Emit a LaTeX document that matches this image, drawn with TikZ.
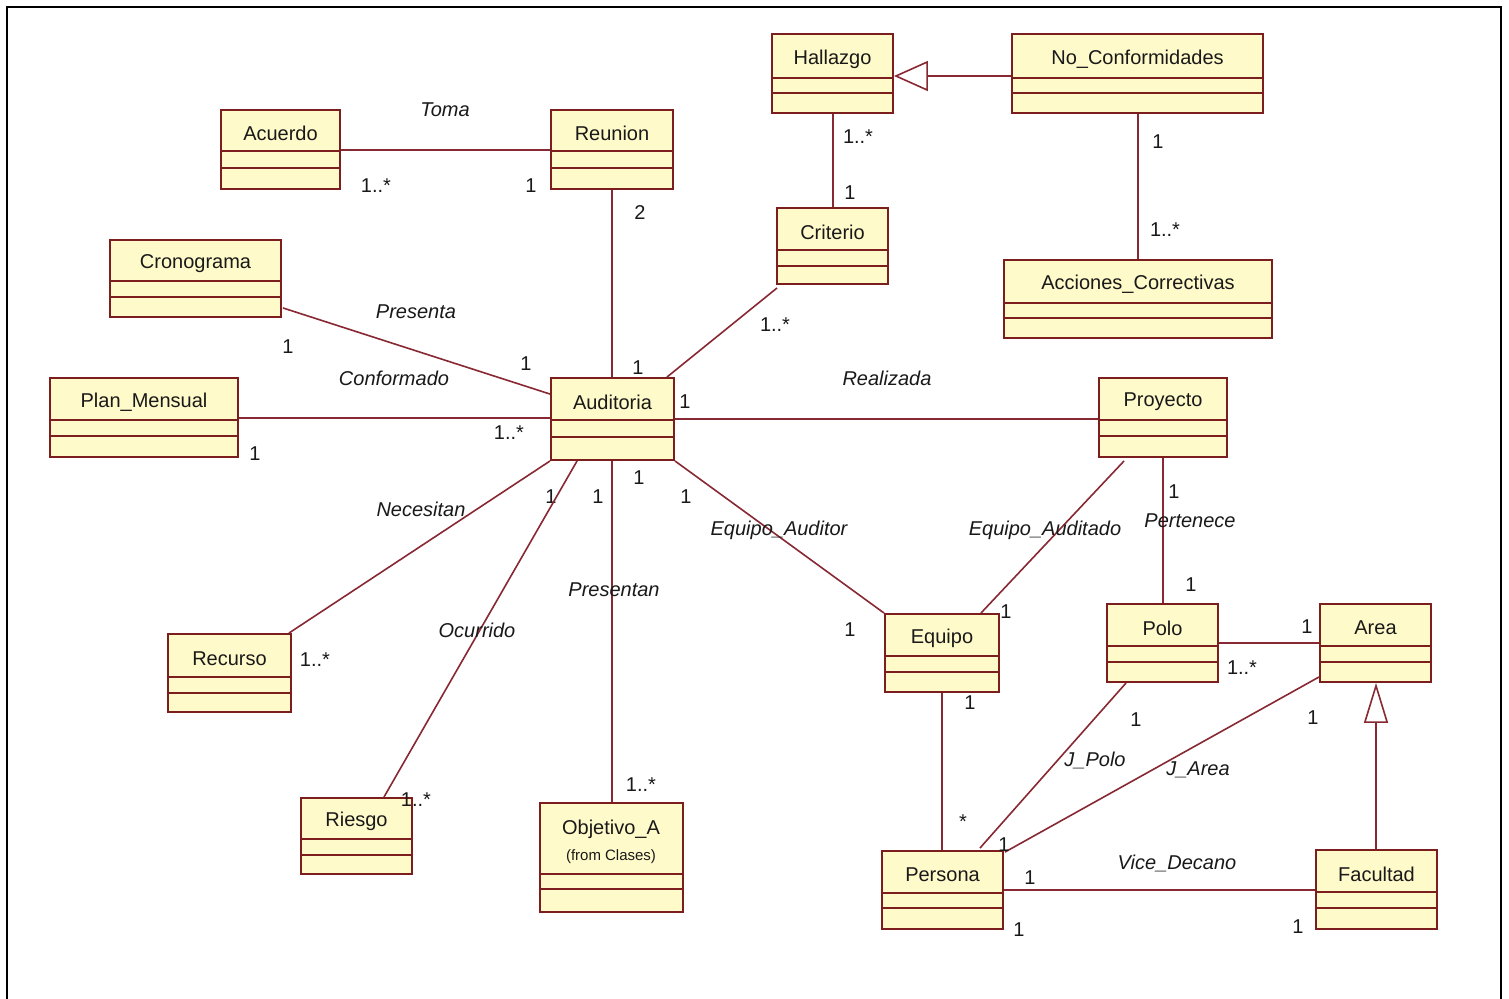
\documentclass[tikz,border=0pt]{standalone}
\usepackage{fontspec}
\setmainfont{Liberation Sans}
\usetikzlibrary{arrows.meta,fit,calc}

\definecolor{clsfill}{RGB}{255,250,202}
\definecolor{clsline}{RGB}{125,30,30}
\definecolor{assocline}{RGB}{135,40,50}
\definecolor{txt}{RGB}{25,25,25}

\tikzset{
  every node/.style={font=\fontsize{10}{12}\selectfont, text=txt},
  classbox/.style={draw=clsline, fill=clsfill, line width=0.95pt, inner sep=0pt},
  divider/.style={draw=clsline, line width=0.95pt},
  classname/.style={inner sep=0pt},
  smallname/.style={inner sep=0pt, font=\fontsize{7.5}{9}\selectfont},
  assoc/.style={draw=assocline, line width=0.8pt},
  role/.style={inner sep=0pt, font=\fontsize{10}{12}\selectfont\itshape},
  mult/.style={inner sep=0pt},
  frameline/.style={draw=black, line width=1.3pt}
}

% class box: name, x1, y1, x2, y2, first divider, second divider, title
\newcommand\umlclass[8]{%
  \node[classbox, fit={(#2,#3) (#4,#5)}] (#1) {};
  \draw[divider] (#2,#6) -- (#4,#6) (#2,#7) -- (#4,#7);
  \node[classname] (#1-name) at ({(#2+#4)/2},{(#3+#6)/2+3}) {#8};
}

\begin{document}
\begin{tikzpicture}[x=0.5pt, y=-0.5pt]
  \useasboundingbox (0,0) rectangle (1509,998);
  \fill[white] (0,0) rectangle (1509,998);
  \draw[frameline] (7,1000) -- (7,7) -- (1501,7) -- (1501,1000);

  % classes
  \umlclass{acu}{221}{110}{340}{189}{151}{168}{Acuerdo}
  \umlclass{reu}{551}{110}{673}{189}{151}{168}{Reunion}
  \umlclass{hal}{772}{34}{893}{113}{78}{93}{Hallazgo}
  \umlclass{nc}{1012}{34}{1263}{113}{78}{93}{No\_Conformidades}
  \umlclass{cri}{777}{208}{888}{284}{250}{266}{Criterio}
  \umlclass{ac}{1004}{260}{1272}{338}{303}{318}{Acciones\_Correctivas}
  \umlclass{cro}{110}{240}{281}{317}{281}{297}{Cronograma}
  \umlclass{pm}{50}{378}{238}{457}{420}{436}{Plan\_Mensual}
  \umlclass{aud}{551}{378}{674}{460}{420}{437}{Auditoria}
  \umlclass{pr}{1099}{378}{1227}{457}{420}{436}{Proyecto}
  \umlclass{rec}{168}{634}{291}{712}{677}{693}{Recurso}
  \umlclass{rie}{301}{798}{412}{874}{839}{855}{Riesgo}
  \umlclass{obj}{540}{803}{683}{912}{874}{889}{}
  \node[classname] (obj-title) at (611,829) {Objetivo\_A};
  \node[smallname] (obj-pkg) at (611,857) {(from Clases)};
  \umlclass{equ}{885}{614}{999}{692}{656}{672}{Equipo}
  \umlclass{polo}{1107}{604}{1218}{682}{646}{662}{Polo}
  \umlclass{area}{1320}{604}{1431}{682}{646}{662}{Area}
  \umlclass{per}{882}{851}{1003}{929}{893}{908}{Persona}
  \umlclass{fac}{1316}{850}{1437}{929}{892}{908}{Facultad}

  % associations
  \draw[assoc] ($(acu.east)+(0,0.5)$) -- ($(acu.east -| reu.west)+(0,0.5)$);
  \node[role] at (445,110) {Toma};
  \node[mult] at (376,186) {1..*};
  \node[mult] at (531,186) {1};

  \draw[assoc] (reu.south) -- (reu.south |- aud.north);
  \node[mult] at (640,213) {2};

  % generalization No_Conformidades -> Hallazgo
  \draw[assoc, {Triangle[open, length=17pt, width=15pt]}-] ($(hal.east)+(0,2.5)$) -- ($(nc.west)+(0,2.5)$);

  \draw[assoc] ($(hal.south)+(0.5,0)$) -- ($(hal.south |- cri.north)+(0.5,0)$);
  \node[mult] at (858,137) {1..*};
  \node[mult] at (850,193) {1};

  \draw[assoc] ($(nc.south)+(0.5,0)$) -- ($(nc.south |- ac.north)+(0.5,0)$);
  \node[mult] at (1158,142) {1};
  \node[mult] at (1165,230) {1..*};

  \draw[assoc] ($(cri.south west)+(1,3)$) -- ($(aud.north east)+(-8,0)$);
  \node[mult] at (775,325) {1..*};
  \node[mult] at (638,368) {1};

  \draw[assoc] ($(cro.south east)+(1,-10)$) -- ($(aud.north west)+(0,17)$);
  \node[role] at (416,312) {Presenta};
  \node[mult] at (288,347) {1};
  \node[mult] at (526,364) {1};

  \draw[assoc] ($(pm.east)+(0,0.5)$) -- ($(pm.east -| aud.west)+(0,0.5)$);
  \node[role] at (394,378) {Conformado};
  \node[mult] at (255,454) {1};
  \node[mult] at (509,433) {1..*};

  \draw[assoc] (aud.east) -- (aud.east -| pr.west);
  \node[role] at (887,378) {Realizada};
  \node[mult] at (685,402) {1};

  \draw[assoc] (aud.south west) -- ($(rec.north east)+(-3,0)$);
  \node[role] at (421,509) {Necesitan};
  \node[mult] at (315,660) {1..*};
  \node[mult] at (551,497) {1};

  \draw[assoc] ($(aud.south west)+(27,0)$) -- ($(rie.north east)+(-29,0)$);
  \node[role] at (477,630) {Ocurrido};
  \node[mult] at (416,800) {1..*};
  \node[mult] at (598,497) {1};

  \draw[assoc] ($(aud.south)+(-0.5,0)$) -- ($(aud.south |- obj.north)+(-0.5,0)$);
  \node[role] at (614,590) {Presentan};
  \node[mult] at (641,785) {1..*};
  \node[mult] at (639,478) {1};

  \draw[assoc] (aud.south east) -- (equ.north west);
  \node[role] at (779,530) {Equipo\_Auditor};
  \node[mult] at (686,497) {1};
  \node[mult] at (850,630) {1};

  \draw[assoc] ($(pr.south west)+(26,3)$) -- ($(equ.north east)+(-19,0)$);
  \node[role] at (1045,530) {Equipo\_Auditado};
  \node[mult] at (1006,612) {1};

  \draw[assoc] (pr.south) -- (pr.south |- polo.north);
  \node[mult] at (1174,492) {1};
  \node[role] at (1190,521) {Pertenece};
  \node[mult] at (1191,585) {1};

  \draw[assoc] (polo.east) -- (polo.east -| area.west);
  \node[mult] at (1307,627) {1};
  \node[mult] at (1242,668) {1..*};

  % generalization Facultad -> Area
  \draw[assoc, {Triangle[open, length=20pt, width=12pt]}-] ($(area.south)+(0.5,0)$) -- ($(area.south |- fac.north)+(0.5,0)$);

  \draw[assoc] (equ.south) -- (equ.south |- per.north);
  \node[mult] at (970,703) {1};
  \node[mult] at (963,822) {*};

  \draw[assoc] ($(polo.south west)+(20,0)$) -- ($(per.north east)+(-24,-2)$);
  \node[role] at (1095,760) {J\_Polo};
  \node[mult] at (1136,720) {1};

  \draw[assoc] ($(area.south west)+(0,-6)$) -- ($(per.north east)+(1,2)$);
  \node[role] at (1198,770) {J\_Area};
  \node[mult] at (1313,718) {1};
  \node[mult] at (1004,845) {1};

  \draw[assoc] (per.east) -- (per.east -| fac.west);
  \node[role] at (1177,863) {Vice\_Decano};
  \node[mult] at (1030,878) {1};
  \node[mult] at (1019,930) {1};
  \node[mult] at (1298,927) {1};
\end{tikzpicture}
\end{document}
